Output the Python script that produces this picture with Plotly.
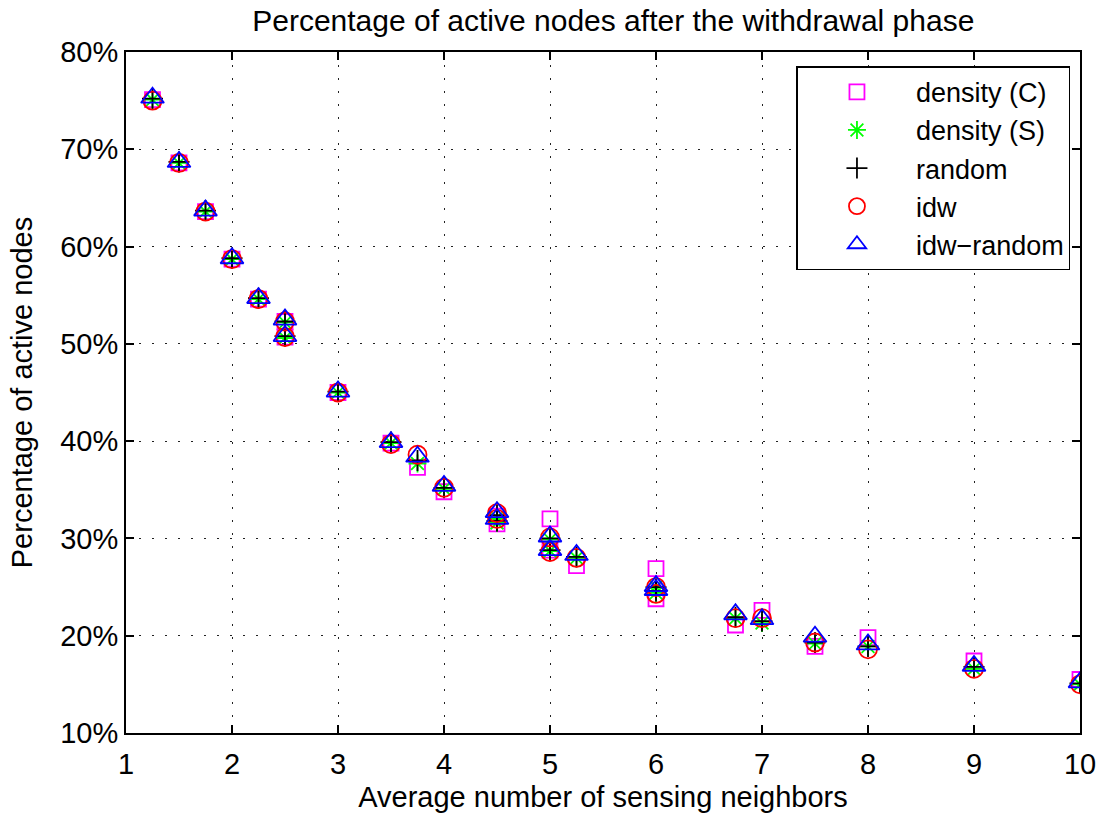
import plotly.graph_objects as go

# Average number of sensing neighbors (some configurations share the same x)
x_vals = [1.25, 1.5, 1.75, 2, 2.25, 2.5, 2.5, 3, 3.5, 3.75, 4, 4.5, 4.5, 5, 5, 5.25,
          6, 6, 6.75, 7, 7.5, 8, 9, 10]

density_c = [75.1, 68.6, 63.6, 58.7, 54.6, 52.3, 50.7, 45.0, 39.8, 37.3, 34.8, 32.3, 31.5,
             32.0, 28.8, 27.2, 26.9, 23.8, 21.1, 22.6, 18.9, 19.8, 17.4, 15.5]
density_s = [75.1, 68.6, 63.6, 58.7, 54.6, 52.2, 50.6, 45.0, 39.8, 37.7, 35.1, 32.1, 31.6,
             29.9, 28.7, 28.0, 25.0, 24.4, 21.8, 21.3, 19.2, 18.9, 16.6, 15.0]
random_v = [75.2, 68.7, 63.7, 58.8, 54.7, 52.3, 50.8, 45.1, 39.9, 38.0, 35.2, 32.4, 31.8,
            30.0, 28.8, 28.1, 25.0, 24.6, 21.9, 21.5, 19.3, 18.9, 16.8, 15.1]
idw = [75.0, 68.6, 63.6, 58.7, 54.6, 52.3, 50.7, 45.0, 39.7, 38.6, 35.2, 32.6, 32.0,
       30.1, 28.6, 28.0, 25.0, 24.3, 21.8, 21.8, 19.3, 18.6, 16.6, 15.0]
idw_random = [75.3, 68.7, 63.7, 58.8, 54.7, 52.5, 50.8, 45.1, 39.9, 38.4, 35.4, 32.7, 32.0,
              30.2, 28.8, 28.3, 25.1, 24.7, 22.2, 21.7, 19.9, 19.1, 16.9, 15.2]

x_ticks = list(range(1, 11))
y_ticks = list(range(10, 81, 10))

FONT = "Liberation Sans, Arial, sans-serif"
FS = 29

series = [
    ("density (C)", density_c, "square-open", "#FF00FF", 15),
    ("density (S)", density_s, "asterisk-open", "#00FF00", 15),
    ("random", random_v, "cross-thin-open", "#000000", 15),
    ("idw", idw, "circle-open", "#FF0000", 18),
    ("idw\u2212random", idw_random, "triangle-up-open", "#0000FF", 20),
]

fig = go.Figure()
for name, vals, sym, col, sz in series:
    fig.add_trace(go.Scatter(
        x=x_vals, y=vals, mode="markers", name=name,
        marker=dict(symbol=sym, size=sz, color=col, line=dict(color=col, width=1.8)),
    ))

axis_common = dict(
    showline=True, linecolor="black", linewidth=2, mirror="ticks",
    ticks="inside", ticklen=8, tickwidth=1.5, tickcolor="black",
    showgrid=True, gridcolor="#222222", gridwidth=1, griddash="2px,11px",
    zeroline=False, automargin=False,
    tickfont=dict(family=FONT, size=FS, color="black"),
)

fig.update_xaxes(range=[1, 10], tickvals=x_ticks, ticktext=[str(v) for v in x_ticks],
                 ticklabelstandoff=4,
                 title=dict(text="Average number of sensing neighbors",
                            font=dict(family=FONT, size=FS, color="black"), standoff=8),
                 **axis_common)
fig.update_yaxes(range=[10, 80], tickvals=y_ticks, ticktext=[f"{v}%" for v in y_ticks],
                 title=dict(text="Percentage of active nodes",
                            font=dict(family=FONT, size=FS, color="black"), standoff=19),
                 **axis_common)

fig.update_layout(
    width=1103, height=814,
    margin=dict(l=126, r=23, t=52, b=81),
    paper_bgcolor="white", plot_bgcolor="white",
    title=dict(text="Percentage of active nodes after the withdrawal phase",
               font=dict(family=FONT, size=FS + 1, color="black"),
               x=0.556, xref="container", xanchor="center",
               y=0.975, yref="container", yanchor="middle"),
    legend=dict(x=0.99, y=0.979, xanchor="right", yanchor="top",
                bgcolor="white", bordercolor="black", borderwidth=1.5,
                font=dict(family=FONT, size=27, color="black"),
                itemwidth=108, tracegroupgap=0),
    showlegend=True,
)

fig.write_html("out.html")
